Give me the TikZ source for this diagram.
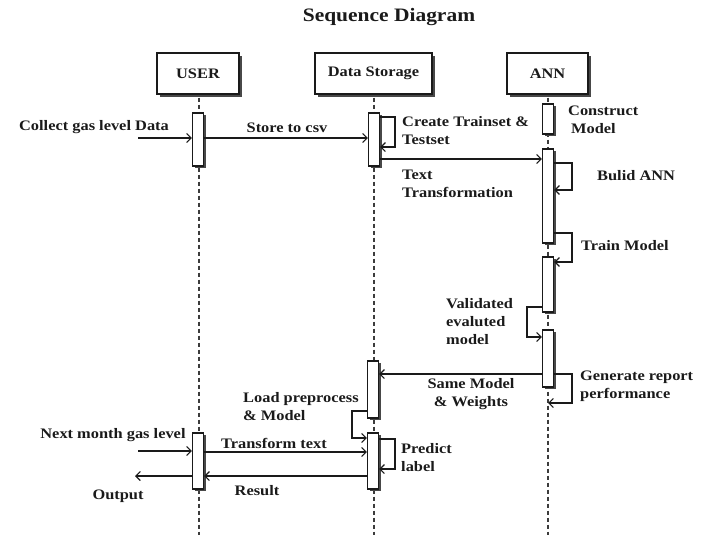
\documentclass[tikz,border=0pt]{standalone}
\usepackage{fontspec}
\setmainfont{Liberation Serif}[FakeStretch=1.13]
\usetikzlibrary{arrows.meta,shadows}
\definecolor{ink}{HTML}{1A1A1A}
\begin{document}
\begin{tikzpicture}[x=1pt,y=-1pt,
  font=\fontsize{14.5}{18}\selectfont\bfseries,
  head/.style={draw=ink, fill=white, line width=1.1pt, minimum height=41pt, inner sep=0pt, text=ink,
    drop shadow={shadow xshift=3pt, shadow yshift=-3pt, fill=ink!80, opacity=1}},
  act/.style={draw=ink, fill=white, line width=1.1pt, minimum width=11pt, inner sep=0pt,
    drop shadow={shadow xshift=2pt, shadow yshift=-2pt, fill=ink!80, opacity=1}},
  msg/.style={draw=ink, line width=1.2pt, -{Straight Barb[length=4.5pt,width=9pt]}},
  life/.style={draw=ink!85, line width=1.1pt, dash pattern=on 4pt off 3pt},
  lbl/.style={inner sep=0pt, text=ink},
  lleft/.style={lbl, align=left, anchor=west}]
\useasboundingbox (0,0) rectangle (713,535);

% title
\node[lbl, font=\fontsize{19}{22}\selectfont\bfseries] (title) at (389,17) {Sequence Diagram};

% heads
\node[head, minimum width=82pt] (user) at (198,73.5) {USER};
\node[head, minimum width=117pt] (ds) at (373.5,73.5) {Data Storage};
\node[head, minimum width=81pt] (ann) at (547.5,73.5) {ANN};

% lifeline ends
\coordinate (userEnd) at (199,535);
\coordinate (dsEnd) at (374,535);
\coordinate (annEnd) at (548,535);
\draw[life] ([yshift=-3pt]user.south -| userEnd) -- (userEnd);
\draw[life] ([yshift=-3pt]ds.south -| dsEnd) -- (dsEnd);
\draw[life] ([yshift=-3pt]ann.south -| annEnd) -- (annEnd);

% activations
\node[act, minimum height=53pt] (uA1) at (198,139.5) {};
\node[act, minimum height=53pt] (dA1) at (374,139.5) {};
\node[act, minimum height=30pt] (aA1) at (548,119) {};
\node[act, minimum height=94pt] (aA2) at (548,196) {};
\node[act, minimum height=55pt] (aA3) at (548,284.5) {};
\node[act, minimum height=57pt] (aA4) at (548,358.5) {};
\node[act, minimum height=57pt] (dA2) at (373,389.5) {};
\node[act, minimum height=56pt] (dA3) at (373,461) {};
\node[act, minimum height=56pt] (uA2) at (198,461) {};

% messages
\coordinate (inCollect) at (138,138);
\draw[msg] (inCollect) -- (inCollect -| uA1.west);
\node[lbl] (tCollect) at (94,127) {Collect gas level Data};
\draw[msg] (inCollect -| uA1.east) -- (inCollect -| dA1.west);
\node[lbl] (tStore) at (287,128) {Store to csv};

% create trainset loop
\coordinate (ctA) at (395,117);
\coordinate (cbA) at (395,147);
\draw[msg] (ctA -| dA1.east) -- (ctA) -- (cbA) -- (cbA -| dA1.east);
\node[lleft] (tCreate) at (402,130.5) {Create Trainset \&\\Testset};

\node[lleft] (tConstruct) at (568,119.5) {Construct\\\hspace*{3pt}Model};

% text transformation
\coordinate (yText) at (0,159);
\draw[msg] (yText -| dA1.east) -- (yText -| aA2.west);
\node[lleft] (tText) at (402,184) {Text\\Transformation};

% build ANN loop
\coordinate (ctB) at (572,163);
\coordinate (cbB) at (572,190);
\draw[msg] (ctB -| aA2.east) -- (ctB) -- (cbB) -- (cbB -| aA2.east);
\node[lleft] (tBuild) at (597,176) {Bulid ANN};

% train model loop
\coordinate (ctC) at (572,233);
\coordinate (cbC) at (572,262);
\draw[msg] (ctC -| aA2.east) -- (ctC) -- (cbC) -- (cbC -| aA3.east);
\node[lleft] (tTrain) at (581,246) {Train Model};

% validated loop
\coordinate (ctD) at (527,307);
\coordinate (cbD) at (527,337);
\draw[msg] (ctD -| aA3.west) -- (ctD) -- (cbD) -- (cbD -| aA4.west);
\node[lleft] (tValid) at (446,321.5) {Validated\\evaluted\\model};

% same model
\coordinate (ySame) at (0,374);
\draw[msg] (ySame -| aA4.west) -- (ySame -| dA2.east);
\node[lbl, align=center] (tSame) at (471,394) {Same Model\\\& Weights};

% generate report loop
\coordinate (ctE) at (572,374);
\coordinate (cbE) at (572,403);
\draw[msg] (ctE -| aA4.east) -- (ctE) -- (cbE) -- (cbE -| annEnd);
\node[lleft] (tGen) at (580,386.5) {Generate report\\performance};

% load preprocess loop
\coordinate (ctF) at (352,411);
\coordinate (cbF) at (352,438);
\draw[msg] (ctF -| dA2.west) -- (ctF) -- (cbF) -- (cbF -| dA3.west);
\node[lleft] (tLoad) at (243,407) {Load preprocess\\\& Model};

% next month
\coordinate (inNext) at (138,451);
\draw[msg] (inNext) -- (inNext -| uA2.west);
\node[lbl] (tNext) at (113,435) {Next month gas level};

% transform text
\coordinate (yTrans) at (0,452);
\draw[msg] (yTrans -| uA2.east) -- (yTrans -| dA3.west);
\node[lbl] (tTrans) at (274,443) {Transform text};

% predict loop
\coordinate (ctG) at (395,439);
\coordinate (cbG) at (395,469);
\draw[msg] (ctG -| dA3.east) -- (ctG) -- (cbG) -- (cbG -| dA3.east);
\node[lleft] (tPredict) at (401,458) {Predict\\label};

% result
\coordinate (yRes) at (0,476);
\draw[msg] (yRes -| dA3.west) -- (yRes -| uA2.east);
\node[lbl] (tResult) at (257,491) {Result};

% output
\coordinate (outEnd) at (135,476);
\draw[msg] (outEnd -| uA2.west) -- (outEnd);
\node[lbl] (tOutput) at (118,496) {Output};
\end{tikzpicture}
\end{document}
